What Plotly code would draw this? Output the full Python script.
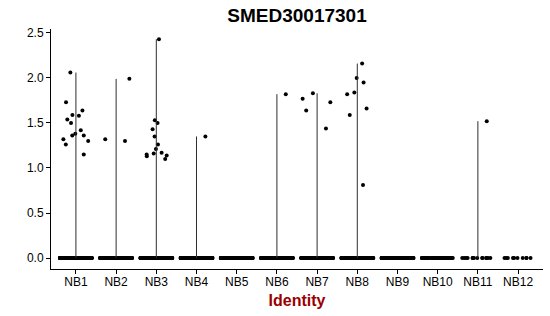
import plotly.graph_objects as go

# ---- data ----
clusters = ["NB1", "NB2", "NB3", "NB4", "NB5", "NB6", "NB7", "NB8", "NB9", "NB10", "NB11", "NB12"]
# number of cells with zero expression per cluster
zero_counts = [400, 350, 300, 300, 280, 250, 200, 180, 120, 60, 14, 10]
# expression values of the expressing cells per cluster
nonzero_values = {
    "NB1": [1.59, 2.06, 1.73, 1.64, 1.54, 1.50, 1.58, 1.36, 1.38, 1.32, 1.30, 1.42, 1.36, 1.26, 1.15],
    "NB2": [1.99, 1.30, 1.32],
    "NB3": [2.43, 1.43, 1.53, 1.50, 1.35, 1.26, 1.17, 1.21, 1.10, 1.16, 1.13, 1.15, 1.14],
    "NB4": [1.35],
    "NB5": [],
    "NB6": [1.82],
    "NB7": [1.73, 1.64, 1.83, 1.77, 1.44],
    "NB8": [2.16, 2.00, 1.95, 1.84, 1.82, 1.66, 1.59, 0.81],
    "NB9": [],
    "NB10": [],
    "NB11": [1.52],
    "NB12": [],
}
y_ticks = [0.0, 0.5, 1.0, 1.5, 2.0, 2.5]
title_text = "SMED30017301"
x_title = "Identity"

fig = go.Figure()

# violin outlines (degenerate to thin lines from 0 to max)
lx, ly = [], []
for c in clusters:
    vals = nonzero_values[c]
    if vals:
        lx += [c, c, None]
        ly += [0, max(vals), None]
fig.add_trace(go.Scatter(x=lx, y=ly, mode="lines",
                         line=dict(color="#2e2e2e", width=1),
                         hoverinfo="skip", showlegend=False))

invisible = dict(line=dict(width=0, color="rgba(0,0,0,0)"), fillcolor="rgba(0,0,0,0)")
for c, nz in zip(clusters, zero_counts):
    fig.add_trace(go.Box(x=[c] * nz, y=[0.0] * nz, boxpoints="all", jitter=0.8,
                         pointpos=0, marker=dict(color="black", size=4),
                         showlegend=False, hoverinfo="skip", **invisible))
    vals = nonzero_values[c]
    if vals:
        fig.add_trace(go.Box(x=[c] * len(vals), y=vals, boxpoints="all", jitter=0.85,
                             pointpos=0, marker=dict(color="black", size=4),
                             showlegend=False, hoverinfo="skip", **invisible))

font_family = "Liberation Sans, Arial, sans-serif"
fig.update_layout(
    width=550, height=316,
    margin=dict(l=51, r=7, t=29, b=47),
    paper_bgcolor="white", plot_bgcolor="white",
    boxmode="overlay", boxgap=0, boxgroupgap=0,
    font=dict(family=font_family, color="black", size=12),
    title=dict(text="<b>" + title_text + "</b>", x=0.5, xref="paper", xanchor="center",
               y=1 - 15 / 316, yref="container", yanchor="middle",
               font=dict(size=19, color="black", family=font_family)),
    xaxis=dict(type="category", categoryorder="array", categoryarray=clusters,
               range=[-0.62, 11.62], showline=True, linecolor="black", linewidth=1,
               ticks="outside", ticklen=4, tickcolor="black", showgrid=False, zeroline=False,
               ticklabelstandoff=-2,
               tickfont=dict(size=12, color="black"),
               title=dict(text="<b>" + x_title + "</b>", standoff=6,
                          font=dict(size=16, color="#990000", family=font_family))),
    yaxis=dict(range=[-0.122, 2.544], tickvals=y_ticks, tickformat=".1f",
               showline=True, linecolor="black", linewidth=1,
               ticks="outside", ticklen=4, tickcolor="black", showgrid=False, zeroline=False,
               tickfont=dict(size=12, color="black")),
)

fig.write_html("out.html")
